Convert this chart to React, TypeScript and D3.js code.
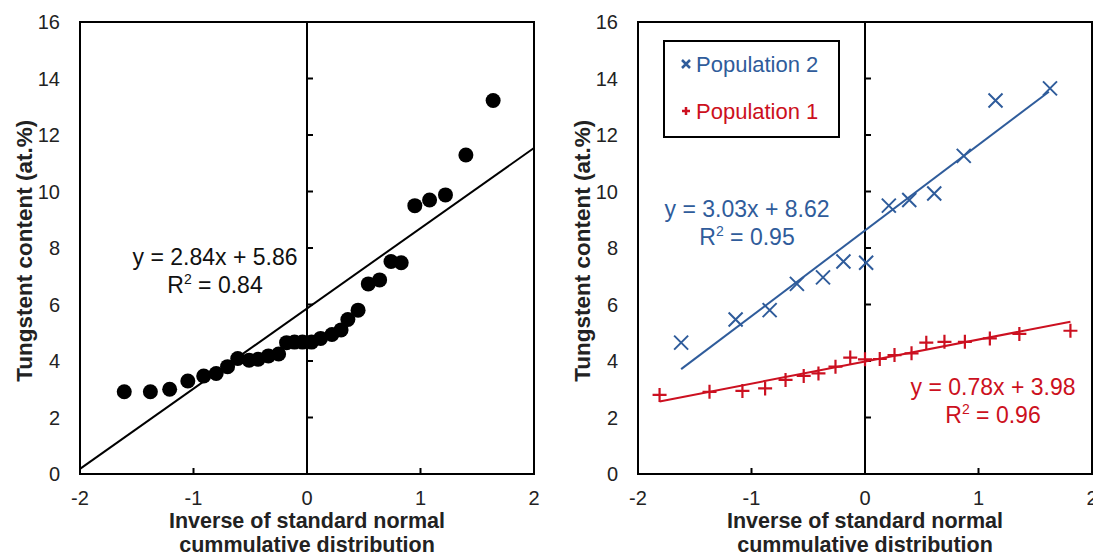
import React from "react";
import * as d3 from "d3";

const xTicks = [-2, -1, 0, 1, 2];
const yTicks = [0, 2, 4, 6, 8, 10, 12, 14, 16];

const allX = [-1.61, -1.38, -1.21, -1.05, -0.91, -0.8, -0.7, -0.61, -0.51, -0.43, -0.34, -0.25, -0.18, -0.11, -0.04, 0.04, 0.12, 0.22, 0.3, 0.36, 0.45, 0.54, 0.64, 0.74, 0.83, 0.95, 1.08, 1.22, 1.4, 1.64];
const allY = [2.91, 2.91, 3.0, 3.29, 3.47, 3.56, 3.8, 4.09, 4.03, 4.06, 4.18, 4.25, 4.65, 4.67, 4.67, 4.67, 4.8, 4.94, 5.1, 5.47, 5.8, 6.73, 6.87, 7.52, 7.48, 9.5, 9.7, 9.88, 11.29, 13.22];

const pop2X = [-1.62, -1.14, -0.84, -0.6, -0.37, -0.19, 0.01, 0.21, 0.39, 0.61, 0.87, 1.15, 1.63];
const pop2Y = [4.65, 5.47, 5.8, 6.73, 6.96, 7.52, 7.48, 9.5, 9.7, 9.93, 11.26, 13.22, 13.65];

const pop1X = [-1.81, -1.37, -1.08, -0.88, -0.7, -0.54, -0.41, -0.26, -0.13, 0.0, 0.13, 0.26, 0.41, 0.54, 0.7, 0.88, 1.1, 1.36, 1.81];
const pop1Y = [2.8, 2.91, 2.94, 3.03, 3.33, 3.47, 3.56, 3.8, 4.12, 4.06, 4.07, 4.21, 4.27, 4.65, 4.68, 4.68, 4.8, 4.96, 5.07];

const fitAll = { slope: 2.84, intercept: 5.86, x0: -2, x1: 2 };
const fitPop2 = { slope: 3.03, intercept: 8.62, x0: -1.62, x1: 1.62 };
const fitPop1 = { slope: 0.78, intercept: 3.98, x0: -1.81, x1: 1.81 };

const BLUE = "#2f5c9b";
const RED = "#cc1020";
const FONT = "'Liberation Sans', Arial, sans-serif";

const yScale = d3.scaleLinear().domain([0, 16]).range([474, 22]);

function Frame({ x }: { x: d3.ScaleLinear<number, number> }) {
  const [x0, x1] = x.range();
  const y0 = yScale(0), y1 = yScale(16);
  return (
    <g>
      <rect x={x0} y={y1} width={x1 - x0} height={y0 - y1} fill="none" stroke="#000" strokeWidth={2} />
      <line x1={x(0)} x2={x(0)} y1={y0} y2={y1} stroke="#000" strokeWidth={2} />
      {yTicks.slice(1, -1).map((t) => (
        <line key={"yt" + t} x1={x(0)} x2={x(0) + 6} y1={yScale(t)} y2={yScale(t)} stroke="#000" strokeWidth={2} />
      ))}
      {xTicks.slice(1, -1).map((t) => (
        <line key={"xt" + t} x1={x(t)} x2={x(t)} y1={y0} y2={y0 - 6} stroke="#000" strokeWidth={2} />
      ))}
      {yTicks.map((t) => (
        <text key={"yl" + t} x={x0 - 20} y={yScale(t)} dy="0.36em" textAnchor="end" fontSize={20} fill="#222" fontFamily={FONT}>
          {t}
        </text>
      ))}
      {xTicks.map((t) => (
        <text key={"xl" + t} x={x(t)} y={y0 + 31} textAnchor="middle" fontSize={20} fill="#222" fontFamily={FONT}>
          {t}
        </text>
      ))}
      <text x={x(0)} y={y0 + 54} textAnchor="middle" fontSize={21.5} fontWeight="bold" fill="#222" fontFamily={FONT}>
        Inverse of standard normal
      </text>
      <text x={x(0)} y={y0 + 78} textAnchor="middle" fontSize={21.5} fontWeight="bold" fill="#222" fontFamily={FONT}>
        cummulative distribution
      </text>
      <text
        transform={`translate(${x0 - 48},${yScale(7.9)}) rotate(-90)`}
        textAnchor="middle"
        fontSize={22.5}
        fontWeight="bold"
        fill="#222"
        fontFamily={FONT}
      >
        Tungstent content (at.%)
      </text>
    </g>
  );
}

function FitLine({ x, fit, color }: { x: d3.ScaleLinear<number, number>; fit: typeof fitAll; color: string }) {
  const line = d3
    .line<number>()
    .x((d) => x(d))
    .y((d) => yScale(fit.slope * d + fit.intercept));
  return <path d={line([fit.x0, fit.x1]) || ""} stroke={color} strokeWidth={2} fill="none" />;
}

function Equation({ cx, cy, fit, r2, color }: { cx: number; cy: number; fit: typeof fitAll; r2: string; color: string }) {
  return (
    <g fill={color} fontFamily={FONT} fontSize={23} textAnchor="middle">
      <text x={cx} y={cy}>
        {`y = ${fit.slope.toFixed(2)}x + ${fit.intercept.toFixed(2)}`}
      </text>
      <text x={cx} y={cy + 28}>
        R<tspan dy={-9} fontSize={14}>2</tspan>
        <tspan dy={9}>{` = ${r2}`}</tspan>
      </text>
    </g>
  );
}

function Cross({ cx, cy, s, color, w = 2 }: { cx: number; cy: number; s: number; color: string; w?: number }) {
  return (
    <path d={`M${cx - s},${cy - s}L${cx + s},${cy + s}M${cx - s},${cy + s}L${cx + s},${cy - s}`} stroke={color} strokeWidth={w} fill="none" />
  );
}
function Plus({ cx, cy, s, color, w = 2.2 }: { cx: number; cy: number; s: number; color: string; w?: number }) {
  return <path d={`M${cx - s},${cy}L${cx + s},${cy}M${cx},${cy - s}L${cx},${cy + s}`} stroke={color} strokeWidth={w} fill="none" />;
}

export default function App() {
  const xL = d3.scaleLinear().domain([-2, 2]).range([80, 534]);
  const xR = d3.scaleLinear().domain([-2, 2]).range([638, 1092]);
  return (
    <svg width={1093} height={557} style={{ position: "absolute", left: 0, top: 0, background: "#fff" }}>
      <rect width={1093} height={557} fill="#fff" />
      {/* Left panel */}
      <Frame x={xL} />
      <FitLine x={xL} fit={fitAll} color="#000" />
      {allX.map((v, i) => (
        <circle key={"a" + i} cx={xL(v)} cy={yScale(allY[i])} r={7.5} fill="#000" />
      ))}
      <Equation cx={215} cy={265} fit={fitAll} r2="0.84" color="#111" />

      {/* Right panel */}
      <Frame x={xR} />
      <FitLine x={xR} fit={fitPop2} color={BLUE} />
      <FitLine x={xR} fit={fitPop1} color={RED} />
      {pop2X.map((v, i) => (
        <Cross key={"b" + i} cx={xR(v)} cy={yScale(pop2Y[i])} s={7} color={BLUE} />
      ))}
      {pop1X.map((v, i) => (
        <Plus key={"c" + i} cx={xR(v)} cy={yScale(pop1Y[i])} s={7} color={RED} />
      ))}
      <Equation cx={747} cy={217} fit={fitPop2} r2="0.95" color={BLUE} />
      <Equation cx={993} cy={395} fit={fitPop1} r2="0.96" color={RED} />

      {/* Legend */}
      <rect x={664} y={41} width={175} height={96} fill="#fff" stroke="#000" strokeWidth={2} />
      <Cross cx={686} cy={64} s={4} color={BLUE} w={2.5} />
      <text x={696} y={72} fontSize={22} fill={BLUE} fontFamily={FONT}>
        Population 2
      </text>
      <Plus cx={686} cy={111} s={4} color={RED} w={2.5} />
      <text x={696} y={119} fontSize={22} fill={RED} fontFamily={FONT}>
        Population 1
      </text>
    </svg>
  );
}
